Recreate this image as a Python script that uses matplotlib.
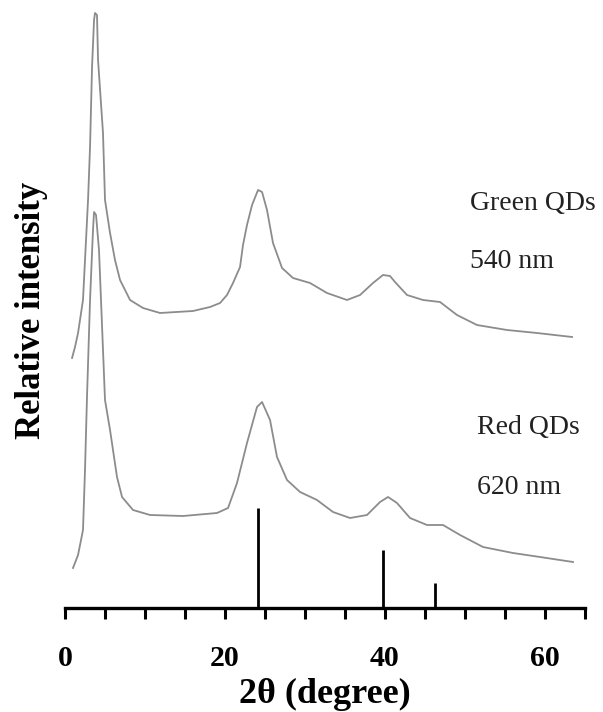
import matplotlib
matplotlib.use("Agg")
import matplotlib.pyplot as plt

# XRD patterns (2θ in degrees, relative intensity in arbitrary units)
green_2theta = [0.88, 1.25, 1.63, 2.25, 2.88, 3.13, 3.38, 3.63, 3.75, 4.0,
                4.13, 4.75, 5.0, 5.63, 6.25, 6.88, 8.13, 9.75, 11.88, 16.0,
                18.13, 19.38, 20.25, 21.0, 21.88, 22.25, 22.75, 23.38, 24.13,
                24.63, 25.25, 26.0, 27.13, 28.5, 30.63, 32.75, 35.25, 36.88,
                38.5, 39.75, 40.63, 41.25, 42.75, 44.75, 46.88, 49.0, 51.5,
                55.25, 59.0, 63.38]
green_intensity = [250, 261, 275, 308, 408, 461, 541, 588, 595, 593,
                   548, 475, 408, 375, 348, 328, 308, 300, 295, 297,
                   301, 305, 313, 325, 341, 363, 383, 403, 418,
                   416, 398, 365, 340, 330, 325, 315, 308, 313,
                   325, 333, 332, 326, 313, 308, 306, 293, 283,
                   278, 275, 271]

red_2theta = [1.0, 1.63, 2.25, 2.5, 2.75, 3.13, 3.5, 3.63, 3.88, 4.25, 4.5,
              5.0, 5.63, 6.5, 7.13, 8.5, 10.63, 14.75, 19.0, 20.38, 21.5,
              22.75, 24.0, 24.63, 25.63, 26.5, 27.75, 29.38, 31.5, 33.5,
              35.63, 37.75, 39.38, 40.38, 41.5, 43.13, 45.25, 47.25, 49.38,
              52.25, 56.0, 59.38, 63.5]
red_intensity = [40, 53, 78, 138, 211, 308, 378, 396, 393, 358, 308,
                 208, 178, 131, 111, 98, 93, 92, 95, 100, 125,
                 165, 201, 206, 188, 151, 128, 116, 108, 96,
                 90, 93, 106, 111, 105, 90, 83, 83, 73,
                 61, 55, 51, 46]

# Reference diffraction lines
ref_2theta = [24.1, 39.75, 46.25]
ref_intensity = [100, 58, 25]

labels = [("Green QDs", 50.6, 405), ("540 nm", 50.6, 346),
          ("Red QDs", 51.5, 181), ("620 nm", 51.5, 121)]

major_ticks = [0, 20, 40, 60]
minor_ticks = list(range(0, 66, 5))

plt.rcParams["font.family"] = ["Liberation Serif", "DejaVu Serif"]

fig = plt.figure(figsize=(6.03, 7.12), dpi=100)
ax = fig.add_axes([65 / 603, 104 / 712, 520 / 603, 608 / 712])

curve_color = "#8c8c8c"
ax.plot(green_2theta, green_intensity, color=curve_color, lw=1.3)
ax.plot(red_2theta, red_intensity, color=curve_color, lw=1.3)
ax.vlines(ref_2theta, 0, ref_intensity, color="black", lw=2.0)

for text, x, y in labels:
    ax.text(x, y, text, fontsize=20, color="#222222", va="center", ha="left")

ax.set_xlim(0, 65)
ax.set_ylim(0, 608)

for side in ("left", "right", "top"):
    ax.spines[side].set_visible(False)
ax.spines["bottom"].set_linewidth(2.4)
ax.set_yticks([])

ax.set_xticks(minor_ticks, minor=True)
ax.set_xticks(major_ticks)
ax.set_xticklabels([str(t) for t in major_ticks], fontsize=21.5,
                   fontweight="bold")
ax.tick_params(axis="x", which="both", direction="out", length=8, width=2.2,
               color="black")
ax.tick_params(axis="x", which="major", pad=19)

ax.set_xlabel("2θ (degree)", fontsize=26, fontweight="bold")
ax.xaxis.set_label_coords(0.5, -0.143)
ax.xaxis.label.set_va("center")

ax.set_ylabel("Relative intensity", fontsize=25, fontweight="bold")
ax.yaxis.set_label_coords(-0.065, 0.49)
ax.yaxis.label.set_va("center")

fig.savefig("out.png", dpi=100)
